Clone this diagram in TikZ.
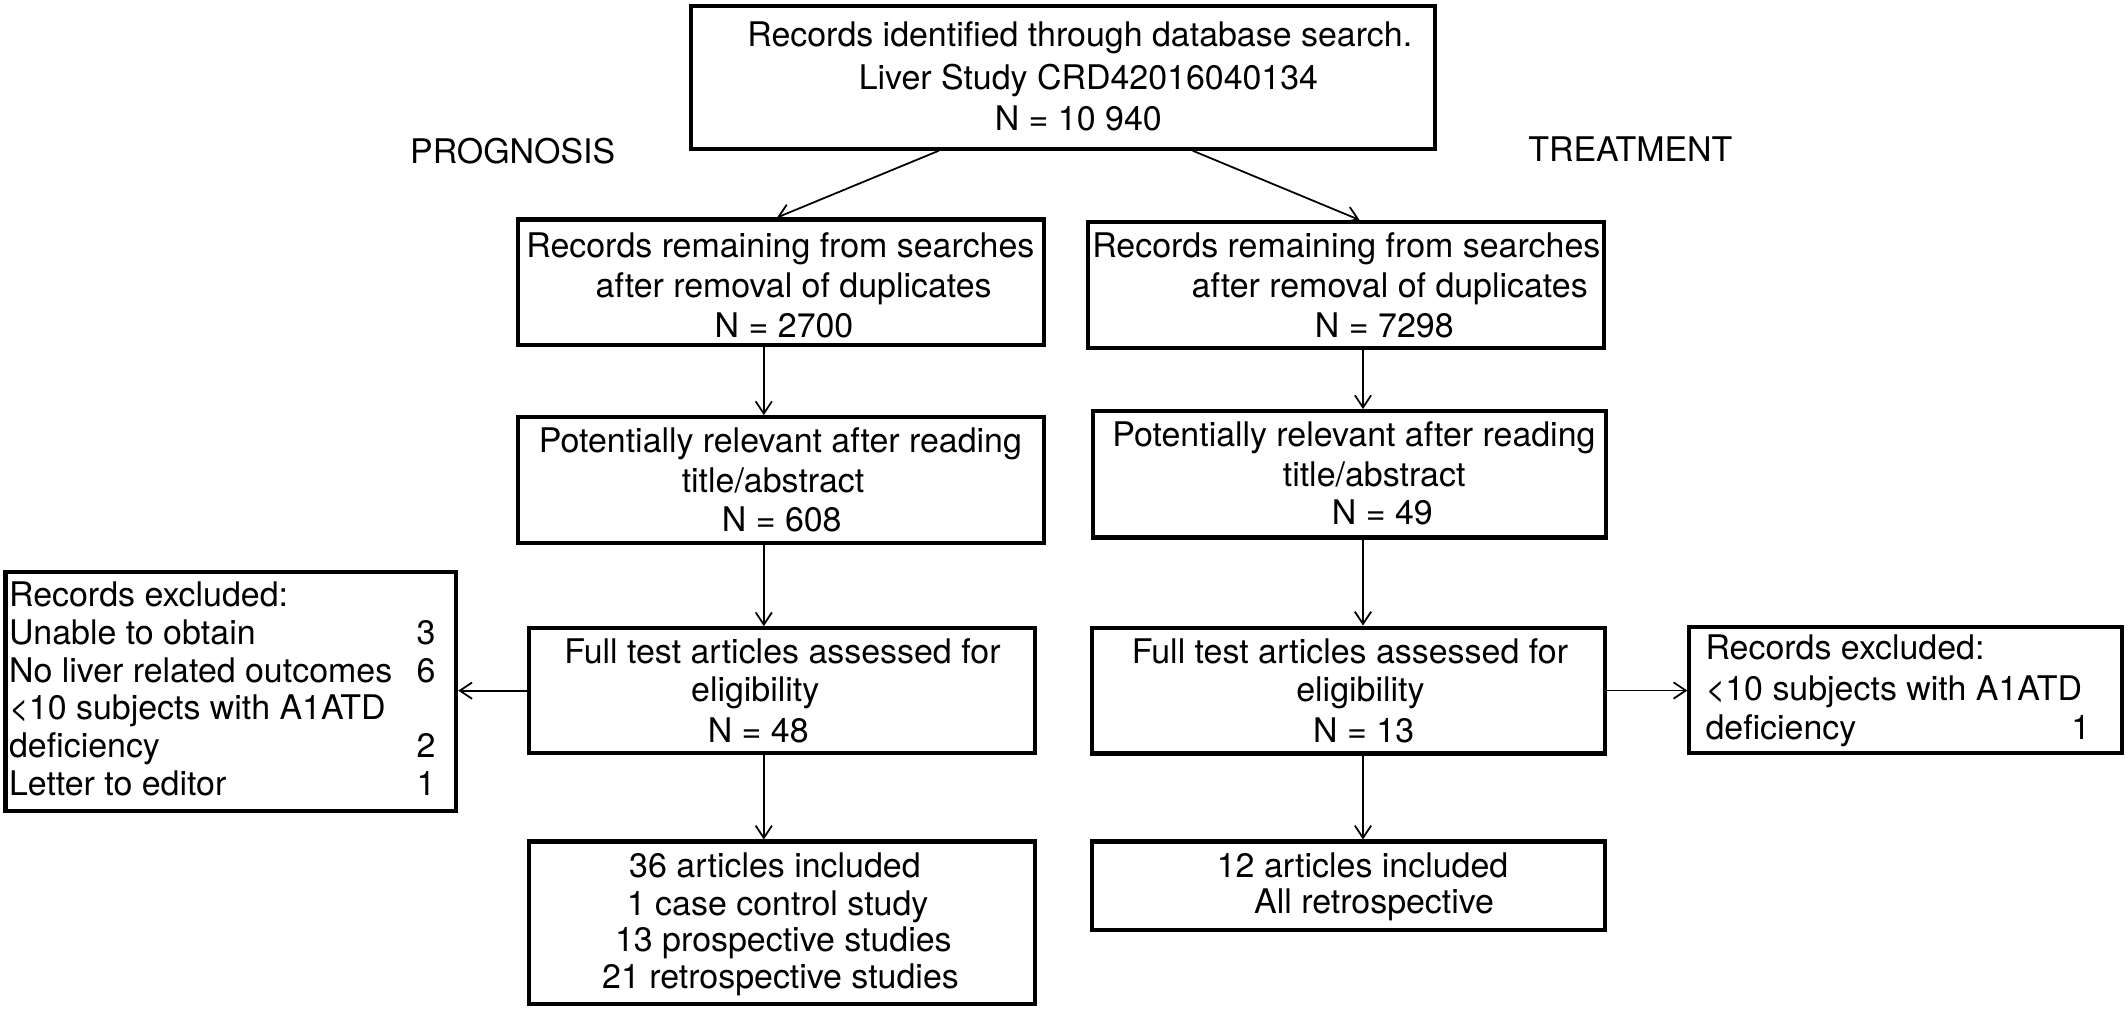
\documentclass[tikz,border=0pt]{standalone}
\usepackage{fontspec}
\setmainfont{TeX Gyre Heros}
\usetikzlibrary{arrows.meta}
\tikzset{
  box/.style={draw=black, line width=3pt, rectangle, inner sep=0pt, fill=none},
  txt/.style={inner sep=0pt, font=\fontsize{25}{28}\selectfont},
  arr/.style={draw=black, line width=1.3pt, -{Straight Barb[length=9pt,width=12pt,line width=1.3pt]}}
}
\begin{document}
\begin{tikzpicture}[x=1pt,y=-1pt]
\useasboundingbox (0,0) rectangle (1568,743.5);
% boxes
\node[box, minimum width=547.7pt, minimum height=105.1pt] (T) at (783.2,57) {};
\node[box, minimum width=387.6pt, minimum height=92.5pt] (L1) at (575.3,208) {};
\node[box, minimum width=380.4pt, minimum height=92.9pt] (R1) at (992,210) {};
\node[box, minimum width=387.6pt, minimum height=92.8pt] (L2) at (575.3,353.8) {};
\node[box, minimum width=377.9pt, minimum height=93.1pt] (R2) at (994.5,349.5) {};
\node[box, minimum width=373pt, minimum height=92pt] (L3) at (576.2,508.9) {};
\node[box, minimum width=377.8pt, minimum height=92.8pt] (R3) at (993.4,508.8) {};
\node[box, minimum width=373pt, minimum height=119.9pt] (L4) at (576.2,680) {};
\node[box, minimum width=377.8pt, minimum height=65.1pt] (R4) at (993.4,652.6) {};
\node[box, minimum width=332.1pt, minimum height=176.4pt] (LX) at (170.1,509.7) {};
\node[box, minimum width=318.8pt, minimum height=92.8pt] (RX) at (1404.2,508.5) {};
% texts
\node[txt, anchor=base] (t1) at (795.6,34.5) {Records identified through database search.};
\node[txt, anchor=base] (t2) at (802,66) {Liver Study CRD42016040134};
\node[txt, anchor=base] (t3) at (794.5,96) {N = 10 940};
\node[txt, anchor=base] (pg) at (377.8,120.4) {PROGNOSIS};
\node[txt, anchor=base] (tr) at (1201.3,119.2) {TREATMENT};
\node[txt, anchor=base] (l1a) at (575,189.5) {Records remaining from searches};
\node[txt, anchor=base] (l1b) at (584.8,219) {after removal of duplicates};
\node[txt, anchor=base] (l1c) at (577.7,248.6) {N = 2700};
\node[txt, anchor=base] (r1a) at (992,189.5) {Records remaining from searches};
\node[txt, anchor=base] (r1b) at (1024,219) {after removal of duplicates};
\node[txt, anchor=base] (r1c) at (1020,248.6) {N = 7298};
\node[txt, anchor=base] (l2a) at (575,333.6) {Potentially relevant after reading};
\node[txt, anchor=base] (l2b) at (569.6,363.1) {title/abstract};
\node[txt, anchor=base] (l2c) at (576,391.9) {N = 608};
\node[txt, anchor=base] (r2a) at (997.6,329.2) {Potentially relevant after reading};
\node[txt, anchor=base] (r2b) at (1012.5,358.2) {title/abstract};
\node[txt, anchor=base] (r2c) at (1018.6,386.2) {N = 49};
\node[txt, anchor=base] (l3a) at (576.5,488.9) {Full test articles assessed for};
\node[txt, anchor=base] (l3b) at (556.5,517.2) {eligibility};
\node[txt, anchor=base] (l3c) at (558.7,547.4) {N = 48};
\node[txt, anchor=base] (r3a) at (994.7,488.9) {Full test articles assessed for};
\node[txt, anchor=base] (r3b) at (1002.4,517.2) {eligibility};
\node[txt, anchor=base] (r3c) at (1004.8,547.4) {N = 13};
\node[txt, anchor=base] (l4a) at (571,646.6) {36 articles included};
\node[txt, anchor=base] (l4b) at (573,674.4) {1 case control study};
\node[txt, anchor=base] (l4c) at (577.2,701.4) {13 prospective studies};
\node[txt, anchor=base] (l4d) at (575.1,728.4) {21 retrospective studies};
\node[txt, anchor=base] (r4a) at (1004,646.6) {12 articles included};
\node[txt, anchor=base] (r4b) at (1012.5,673.1) {All retrospective};
\node[txt, anchor=base west] (lxa) at (6.5,447) {Records excluded:};
\node[txt, anchor=base west] (lxb) at (6.5,474.8) {Unable to obtain};
\node[txt, anchor=base west] (lxc) at (6.5,502.6) {No liver related outcomes};
\node[txt, anchor=base west] (lxd) at (6.5,530.4) {<10 subjects with A1ATD};
\node[txt, anchor=base west] (lxe) at (6.5,558.2) {deficiency};
\node[txt, anchor=base west] (lxf) at (6.5,586) {Letter to editor};
\node[txt, anchor=base east] (nb) at (321,474.8) {3};
\node[txt, anchor=base east] (nc) at (321,502.6) {6};
\node[txt, anchor=base east] (ne) at (321,558.2) {2};
\node[txt, anchor=base east] (nf) at (321,586) {1};
\node[txt, anchor=base west] (rxa) at (1256.5,486) {Records excluded:};
\node[txt, anchor=base west] (rxb) at (1256.5,516) {<10 subjects with A1ATD};
\node[txt, anchor=base west] (rxc) at (1256.5,545) {deficiency};
\node[txt, anchor=base east] (rxn) at (1540.3,545) {1};
% connector coordinates
\coordinate (ta) at (691.8,0);
\coordinate (tb) at (878.8,0);
\coordinate (ha) at (572.6,0);
\coordinate (hb) at (1001.7,0);
\coordinate (xl) at (562.8,0);
\coordinate (xr) at (1004.3,0);
% connectors
\draw[arr] (T.south -| ta) -- (L1.north -| ha);
\draw[arr] (T.south -| tb) -- (R1.north -| hb);
\draw[arr] (L1.south -| xl) -- (L2.north -| xl);
\draw[arr] (R1.south -| xr) -- (R2.north -| xr);
\draw[arr] (L2.south -| xl) -- (L3.north -| xl);
\draw[arr] (R2.south -| xr) -- (R3.north -| xr);
\draw[arr] (L3.south -| xl) -- (L4.north -| xl);
\draw[arr] (R3.south -| xr) -- (R4.north -| xr);
\draw[arr] (L3.west) -- (L3.west -| LX.east);
\draw[arr] (R3.east) -- (R3.east -| RX.west);
\end{tikzpicture}
\end{document}
